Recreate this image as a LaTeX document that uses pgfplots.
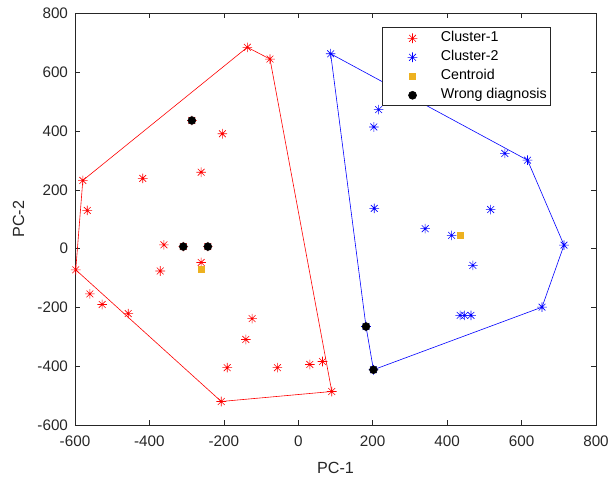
\documentclass[border=0pt]{standalone}
\usepackage{fontspec}
\setmainfont{Liberation Sans}
\usepackage{pgfplots}
\pgfplotsset{compat=1.18}
\definecolor{axgray}{rgb}{0.15,0.15,0.15}
\definecolor{morange}{rgb}{0.929,0.694,0.125}
\definecolor{mred}{rgb}{1,0,0}
\definecolor{mblue}{rgb}{0,0,1}
\pgfdeclareplotmark{mstar}{%
 \pgfpathmoveto{\pgfqpoint{0pt}{\pgfplotmarksize}}\pgfpathlineto{\pgfqpoint{0pt}{-\pgfplotmarksize}}%
 \pgfpathmoveto{\pgfqpoint{\pgfplotmarksize}{0pt}}\pgfpathlineto{\pgfqpoint{-\pgfplotmarksize}{0pt}}%
 \pgfpathmoveto{\pgfqpoint{0.707\pgfplotmarksize}{0.707\pgfplotmarksize}}\pgfpathlineto{\pgfqpoint{-0.707\pgfplotmarksize}{-0.707\pgfplotmarksize}}%
 \pgfpathmoveto{\pgfqpoint{0.707\pgfplotmarksize}{-0.707\pgfplotmarksize}}\pgfpathlineto{\pgfqpoint{-0.707\pgfplotmarksize}{0.707\pgfplotmarksize}}%
 \pgfusepathqstroke}
\pgfplotsset{myleg/.style={legend image code/.code={\path (-7bp,0bp) (47bp,0bp); \draw[##1, mark repeat=1] plot coordinates {(21bp,0bp)};}}}
\begin{document}
\begin{tikzpicture}
\path[use as bounding box] (-75bp,-52bp) rectangle (536bp,425bp);
\begin{axis}[
  scale only axis,
  width=521bp, height=411.5bp,
  at={(0,0)}, anchor=south west,
  xmin=-600, xmax=800, ymin=-600, ymax=800,
  xtick={-600,-400,-200,0,200,400,600,800},
  xticklabels={-600,-400,-200,0,200,400,600,800},
  ytick={-600,-400,-200,0,200,400,600,800},
  yticklabels={-600,-400,-200,0,200,400,600,800},
  tick pos=both, tick align=inside,
  major tick length=5bp,
  axis line style={axgray, line width=0.6pt},
  every tick/.style={axgray, line width=0.6pt},
  tick label style={font=\fontsize{15.3}{17}\selectfont, text=axgray},
  xticklabel style={yshift=-7bp},
  yticklabel style={xshift=-3.5bp},
  label style={font=\fontsize{16.2}{18}\selectfont, text=axgray},
  xlabel={PC-1}, ylabel={PC-2},
  xlabel style={at={(axis description cs:0.5,-0.1045)}, anchor=center},
  ylabel style={at={(axis description cs:-0.1085,0.5)}, anchor=center},
  legend style={draw=axgray, line width=0.6pt, font=\fontsize{14.3}{16}\selectfont,
    at={(1,1)}, anchor=north east, xshift=-45bp, yshift=-14bp,
    inner xsep=2bp, inner ysep=1bp, row sep=0bp,
    nodes={inner sep=2bp, text height=11bp, text depth=4bp}},
  legend cell align=left,
]
\addplot[only marks, mark=mstar, mark size=4.8bp, draw=mred, line width=0.6pt, myleg] coordinates {
(-137,685) (-76,645) (-204,391) (-261,260) (-418,239) (-579,232) (-567,130)
(-361,13) (-261,-47) (-371,-76) (-598,-72) (-560,-154) (-527,-190) (-457,-221)
(-124,-238) (-141,-309) (-191,-405) (-56,-405) (31,-394) (65,-384) (90,-486)
(-207,-520) (-286,436) (-309,7) (-243,7)
};
\addlegendentry{Cluster-1}
\addplot[only marks, mark=mstar, mark size=4.8bp, draw=mblue, line width=0.6pt, myleg] coordinates {
(87,663) (216,473) (203,414) (555,324) (616,301) (204,137) (517,133) (341,68)
(412,45) (469,-57) (714,12) (655,-199) (435,-227) (447,-227) (464,-227)
(182,-265) (202,-412)
};
\addlegendentry{Cluster-2}
\addplot[forget plot, mred, line width=0.6pt] coordinates {
(-137,685) (-76,645) (90,-486) (-207,-520) (-598,-72) (-579,232) (-137,685)
};
\addplot[forget plot, mblue, line width=0.6pt] coordinates {
(87,663) (616,301) (714,12) (655,-199) (202,-412) (182,-265) (87,663)
};
\addplot[only marks, mark=square*, mark size=3bp, draw=morange, fill=morange, myleg] coordinates {
(-261,-70) (434,45)
};
\addlegendentry{Centroid}
\addplot[only marks, mark=*, mark size=4bp, draw=black, fill=black, myleg] coordinates {
(-286,436) (-309,7) (-243,7) (182,-265) (202,-412)
};
\addlegendentry{Wrong diagnosis}
\end{axis}
\end{tikzpicture}
\end{document}
